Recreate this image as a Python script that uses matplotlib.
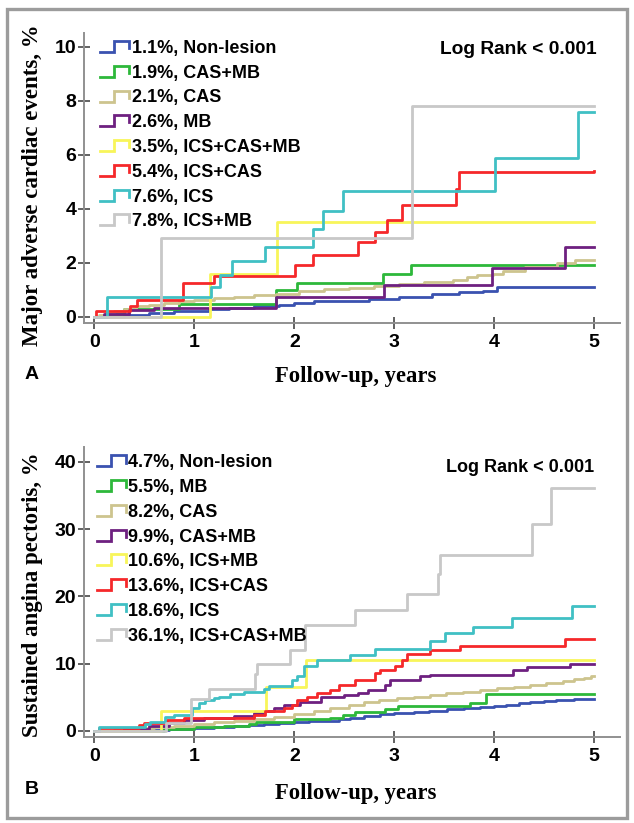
import matplotlib
matplotlib.use("Agg")
import matplotlib.pyplot as plt
from matplotlib.legend_handler import HandlerBase
from matplotlib.lines import Line2D
from matplotlib.patches import Rectangle

plt.rcParams['font.family'] = ['Liberation Sans', 'DejaVu Sans']

# ==========================================
# Panel A: major adverse cardiac events (%)
# ==========================================
mace_labels = ['1.1%, Non-lesion', '1.9%, CAS+MB', '2.1%, CAS', '2.6%, MB',
               '3.5%, ICS+CAS+MB', '5.4%, ICS+CAS', '7.6%, ICS', '7.8%, ICS+MB']

mace_nonlesion_t = [0, 0.3, 0.55, 0.8, 1.15, 1.35, 1.6, 1.85, 2.0, 2.2, 2.45, 2.75, 3.05, 3.38, 3.65, 3.89, 4.03, 5.0]
mace_nonlesion_v = [0, 0.08, 0.15, 0.2, 0.28, 0.33, 0.38, 0.45, 0.5, 0.57, 0.6, 0.65, 0.73, 0.84, 0.9, 0.97, 1.1, 1.1]

mace_casmb_t = [0, 0.12, 0.3, 0.85, 1.82, 2.03, 2.89, 3.17, 5.0]
mace_casmb_v = [0, 0.1, 0.3, 0.47, 1.0, 1.26, 1.6, 1.9, 1.9]

mace_cas_t = [0, 0.05, 0.12, 0.2, 0.3, 0.42, 0.55, 0.7, 0.85, 1.0, 1.2, 1.4, 1.6, 1.82, 2.05, 2.3, 2.55,
              2.8, 3.05, 3.3, 3.59, 3.73, 3.83, 3.99, 4.09, 4.31, 4.63, 4.81, 5.0]
mace_cas_v = [0, 0.08, 0.15, 0.22, 0.3, 0.38, 0.45, 0.52, 0.58, 0.63, 0.68, 0.73, 0.79, 0.85, 0.95, 1.02, 1.08,
              1.15, 1.22, 1.28, 1.37, 1.47, 1.55, 1.6, 1.71, 1.86, 1.98, 2.1, 2.1]

mace_mb_t = [0, 0.1, 0.35, 0.6, 1.82, 2.9, 3.98, 4.71, 5.0]
mace_mb_v = [0, 0.1, 0.25, 0.32, 0.74, 1.18, 1.8, 2.6, 2.6]

mace_icscasmb_t = [0, 1.16, 1.83, 5.0]
mace_icscasmb_v = [0, 1.6, 3.5, 3.5]

mace_icscas_t = [0, 0.02, 0.36, 0.43, 0.89, 1.2, 2.01, 2.19, 2.64, 2.81, 2.93, 3.08, 3.62, 3.65, 5.0]
mace_icscas_v = [0, 0.22, 0.4, 0.63, 1.25, 1.5, 1.93, 2.3, 2.75, 3.14, 3.6, 4.12, 4.74, 5.36, 5.4]

mace_ics_t = [0, 0.13, 1.17, 1.26, 1.38, 1.71, 2.19, 2.29, 2.49, 4.01, 4.84, 5.0]
mace_ics_v = [0, 0.72, 1.1, 1.56, 2.07, 2.6, 3.24, 3.92, 4.64, 5.88, 7.57, 7.6]

mace_icsmb_t = [0, 0.67, 3.18, 5.0]
mace_icsmb_v = [0, 2.93, 7.8, 7.8]

# ==========================================
# Panel B: sustained angina pectoris (%)
# ==========================================
angina_labels = ['4.7%, Non-lesion', '5.5%, MB', '8.2%, CAS', '9.9%, CAS+MB',
                 '10.6%, ICS+MB', '13.6%, ICS+CAS', '18.6%, ICS', '36.1%, ICS+CAS+MB']

angina_nonlesion_t = [0, 0.3, 0.5, 0.75, 1.0, 1.2, 1.4, 1.55, 1.7, 1.85, 2.0, 2.15, 2.3, 2.45, 2.56, 2.7, 2.86,
                      3.0, 3.2, 3.35, 3.53, 3.7, 3.86, 4.0, 4.12, 4.25, 4.36, 4.5, 4.62, 4.8, 5.0]
angina_nonlesion_v = [0, 0.1, 0.2, 0.3, 0.5, 0.6, 0.75, 0.9, 1.05, 1.2, 1.3, 1.45, 1.55, 1.75, 2.0, 2.2, 2.45,
                      2.6, 2.85, 3.0, 3.2, 3.4, 3.55, 3.7, 3.85, 4.1, 4.3, 4.5, 4.65, 4.7, 4.7]

angina_mb_t = [0, 0.7, 1.0, 1.3, 1.55, 1.62, 2.0, 2.36, 2.49, 2.61, 2.91, 3.04, 3.76, 3.92, 5.0]
angina_mb_v = [0, 0.3, 0.6, 0.7, 1.0, 1.4, 1.8, 1.9, 2.3, 2.8, 3.3, 3.7, 4.2, 5.5, 5.5]

angina_cas_t = [0, 0.2, 0.4, 0.6, 0.8, 1.0, 1.2, 1.4, 1.6, 1.8, 2.0, 2.2, 2.36, 2.55, 2.7, 2.85, 3.03, 3.2,
                3.36, 3.52, 3.69, 3.86, 4.03, 4.2, 4.36, 4.52, 4.69, 4.8, 4.9, 4.97, 5.0]
angina_cas_v = [0, 0.2, 0.4, 0.6, 0.8, 1.0, 1.3, 1.55, 1.8, 2.1, 2.5, 2.95, 3.4, 3.9, 4.3, 4.6, 4.9, 5.1,
                5.4, 5.6, 5.85, 6.1, 6.35, 6.55, 6.8, 7.1, 7.5, 7.7, 7.9, 8.2, 8.2]

angina_casmb_t = [0, 0.3, 0.55, 0.75, 0.9, 1.1, 1.4, 1.6, 1.7, 1.8, 1.9, 2.06, 2.27, 2.5, 2.64, 2.74, 2.91,
                  2.96, 3.26, 3.36, 4.19, 4.33, 4.76, 5.0]
angina_casmb_v = [0, 0.3, 0.7, 1.2, 1.6, 1.9, 2.2, 2.6, 3.0, 3.4, 3.8, 4.3, 5.05, 5.35, 5.7, 6.1, 6.8,
                  7.6, 8.1, 8.3, 9.1, 9.5, 9.9, 9.9]

angina_icsmb_t = [0, 0.67, 1.72, 2.12, 5.0]
angina_icsmb_v = [0, 3.0, 6.5, 10.6, 10.6]

angina_icscas_t = [0, 0.05, 0.45, 0.5, 0.73, 0.9, 1.6, 1.71, 1.9, 1.98, 2.03, 2.13, 2.23, 2.36, 2.45, 2.61,
                   2.81, 2.86, 3.01, 3.08, 3.13, 3.36, 3.66, 4.71, 5.0]
angina_icscas_v = [0, 0.5, 0.9, 1.25, 1.6, 1.9, 2.4, 2.9, 3.4, 3.9, 4.6, 5.1, 5.6, 6.1, 6.8, 7.6,
                   8.6, 9.1, 9.65, 10.5, 11.5, 12.0, 12.7, 13.6, 13.6]

angina_ics_t = [0, 0.05, 0.51, 0.56, 0.71, 0.8, 0.98, 1.05, 1.11, 1.2, 1.25, 1.36, 1.5, 1.7, 1.75, 1.98,
                2.03, 2.1, 2.23, 2.56, 2.81, 3.36, 3.51, 3.79, 4.18, 4.78, 5.0]
angina_ics_v = [0, 0.55, 1.0, 1.35, 2.1, 2.4, 3.4, 4.1, 4.6, 4.85, 5.1, 5.5, 5.85, 6.3, 6.7, 7.6,
                8.1, 9.6, 10.5, 11.3, 12.2, 13.3, 14.5, 15.5, 16.8, 18.6, 18.6]

angina_icscasmb_t = [0, 0.72, 0.97, 1.15, 1.61, 1.63, 1.96, 2.11, 2.61, 3.13, 3.44, 3.46, 4.38, 4.57, 5.0]
angina_icscasmb_v = [0, 1.2, 4.8, 6.3, 8.4, 10.0, 12.0, 15.7, 18.0, 20.3, 23.3, 26.2, 30.8, 36.1, 36.1]

series_colors = ['#3a52b0', '#2db83a', '#cdc48e', '#6e2080', '#f8f55a', '#f5282a', '#40c0c4', '#c8c8c8']


class StepHandle(HandlerBase):
    # SPSS style legend key: a small step instead of a flat line
    def create_artists(self, legend, orig_handle, xdescent, ydescent, width, height, fontsize, trans):
        x0, y0 = -xdescent, -ydescent
        xs = [x0, x0 + 0.48 * width, x0 + 0.48 * width, x0 + width, x0 + width]
        ys = [y0, y0, y0 + height, y0 + height, y0 + 0.35 * height]
        line = Line2D(xs, ys, color=orig_handle.get_color(), linewidth=orig_handle.get_linewidth(),
                      solid_joinstyle='miter', transform=trans)
        return [line]


def draw_panel(ax, times, values, labels, ylim, yticks, ylabel, legend_anchor, logrank_xy, logrank_size,
               ylabel_y, xlabel_y):
    handles = []
    for t, v, lab, col in zip(times, values, labels, series_colors):
        h, = ax.step(t, v, where='post', color=col, linewidth=2.0, label=lab)
        handles.append(h)

    ax.set_xlim(-0.105, 5.26)
    ax.set_ylim(*ylim)
    ax.set_xticks([0, 1, 2, 3, 4, 5])
    ax.set_yticks(yticks)

    for side in ['top', 'right']:
        ax.spines[side].set_visible(False)
    for side in ['left', 'bottom']:
        ax.spines[side].set_color('#909090')
        ax.spines[side].set_linewidth(1.4)

    ax.tick_params(direction='inout', length=9, width=1.3, color='#555555',
                   labelsize=14, labelcolor='black')
    ax.tick_params(axis='y', pad=1)
    ax.tick_params(axis='x', pad=3.5)
    for lbl in ax.get_xticklabels() + ax.get_yticklabels():
        lbl.set_fontweight('bold')

    ax.set_xlabel('Follow-up, years', family='Liberation Serif', fontweight='bold', fontsize=16.3,
                  va='center')
    ax.xaxis.set_label_coords(0.507, xlabel_y)
    ax.set_ylabel(ylabel, family='Liberation Serif', fontweight='bold', fontsize=16.5, va='center')
    ax.yaxis.set_label_coords(-0.097, ylabel_y)

    leg = ax.legend(handles=handles, loc='upper left', bbox_to_anchor=legend_anchor,
                    frameon=False, fontsize=13, borderpad=0, borderaxespad=0,
                    handlelength=1.6, handleheight=0.55, handletextpad=0.15, labelspacing=0.43,
                    handler_map={Line2D: StepHandle()})
    for txt in leg.get_texts():
        txt.set_fontweight('bold')

    ax.text(logrank_xy[0], logrank_xy[1], 'Log Rank < 0.001', transform=ax.transAxes,
            ha='right', va='center', fontsize=logrank_size, fontweight='bold')


fig = plt.figure(figsize=(6.34, 8.23), dpi=100)

ax_a = fig.add_axes([84 / 634, 1 - 323 / 823, 536 / 634, 290 / 823])
draw_panel(ax_a,
           [mace_nonlesion_t, mace_casmb_t, mace_cas_t, mace_mb_t,
            mace_icscasmb_t, mace_icscas_t, mace_ics_t, mace_icsmb_t],
           [mace_nonlesion_v, mace_casmb_v, mace_cas_v, mace_mb_v,
            mace_icscasmb_v, mace_icscas_v, mace_ics_v, mace_icsmb_v],
           mace_labels, (-0.233, 10.51), [0, 2, 4, 6, 8, 10],
           'Major adverse cardiac events, %', (0.03, 0.976), (0.957, 0.944), 13.8, 0.475, -0.183)

ax_b = fig.add_axes([84 / 634, 1 - 737.3 / 823, 536 / 634, 290.3 / 823])
draw_panel(ax_b,
           [angina_nonlesion_t, angina_mb_t, angina_cas_t, angina_casmb_t,
            angina_icsmb_t, angina_icscas_t, angina_ics_t, angina_icscasmb_t],
           [angina_nonlesion_v, angina_mb_v, angina_cas_v, angina_casmb_v,
            angina_icsmb_v, angina_icscas_v, angina_ics_v, angina_icscasmb_v],
           angina_labels, (-0.94, 42.2), [0, 10, 20, 30, 40],
           'Sustained angina pectoris, %', (0.024, 0.975), (0.951, 0.930), 13, 0.49, -0.192)

# panel letters
fig.text(32 / 634, 1 - 375 / 823, 'A', fontsize=14, fontweight='bold', ha='center', va='center')
fig.text(32 / 634, 1 - 790 / 823, 'B', fontsize=14, fontweight='bold', ha='center', va='center')

# grey frame around the whole figure
fig.patches.append(Rectangle((7 / 634, 1 - 818 / 823), 620 / 634, 809 / 823, transform=fig.transFigure,
                             fill=False, edgecolor='#9c9c9c', linewidth=2.4))

fig.savefig('out.png', dpi=100)
